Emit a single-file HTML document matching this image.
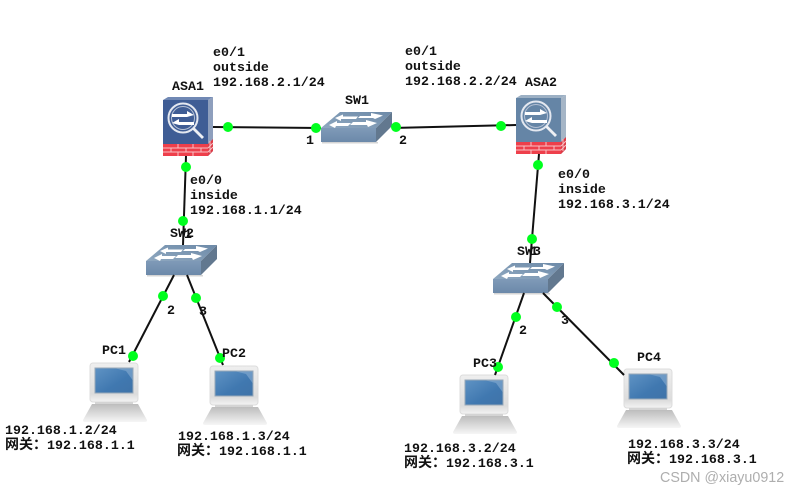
<!DOCTYPE html>
<html><head><meta charset="utf-8"><style>
html,body{margin:0;padding:0;background:#fff;width:799px;height:494px;overflow:hidden}
svg{display:block}
.t{font-family:"Liberation Mono","Noto Serif CJK SC",monospace;font-size:13.3px;font-weight:bold;fill:#111}
.c{font-family:"Liberation Mono","Noto Sans CJK SC",monospace;font-size:13.3px;font-weight:bold;fill:#111}
.w{font-family:"Liberation Sans",sans-serif;font-size:14.3px;fill:#aeaeae}
.l{stroke:#111;stroke-width:2;fill:none}
.d{fill:#00ff1e}
</style></head><body>
<svg width="799" height="494" viewBox="0 0 799 494" xmlns="http://www.w3.org/2000/svg">
<defs>
<linearGradient id="sf" x1="0" y1="0" x2="0" y2="1"><stop offset="0" stop-color="#7f9ab8"/><stop offset="1" stop-color="#6c89aa"/></linearGradient>
<linearGradient id="st" x1="0" y1="1" x2="1" y2="0"><stop offset="0" stop-color="#8fa8c0"/><stop offset="1" stop-color="#6d8aa8"/></linearGradient>
<linearGradient id="scr" x1="0" y1="0" x2="1" y2="1"><stop offset="0" stop-color="#5f93c4"/><stop offset=".6" stop-color="#4078b0"/><stop offset="1" stop-color="#3f73a8"/></linearGradient>
<linearGradient id="mon" x1="0" y1="0" x2="0" y2="1"><stop offset="0" stop-color="#efefef"/><stop offset=".8" stop-color="#dcdcdc"/><stop offset="1" stop-color="#f4f4f4"/></linearGradient>
<linearGradient id="bas" x1="0" y1="0" x2="0" y2="1"><stop offset="0" stop-color="#bdbdbd"/><stop offset="1" stop-color="#f6f6f6"/></linearGradient>

<g id="sw">
<rect x="1" y="30" width="56" height="1.500" fill="#d4d4d4"/>
<polygon points="0,16 55,16 71,0 19,0" fill="url(#st)"/>
<polygon points="55,16 71,0 71,14 55,30" fill="#62788f"/>
<rect x="0" y="16" width="55" height="14" fill="url(#sf)"/>
<g fill="#fff">
<polygon points="14,6 22,2.500 22,4.500 37,4.500 35,7 20,7 20,9"/>
<polygon points="39,4 50,4 50,1 62,3.500 54,7 52,6 37,6"/>
<polygon points="8,13 16,9 16,11 30,11 27,14 15,14 14,16"/>
<polygon points="32,10 45,10 45,8 56,11 47,15 46,13 29,13"/>
</g>
</g>

<g id="asa-icon">
<circle cx="20" cy="18" r="14.500" fill="none" stroke="#e4e8f0" stroke-width="2"/>
<circle cx="20" cy="18" r="11.500" fill="none" stroke="#b4c0d4" stroke-width="1"/>
<line x1="30.500" y1="28.500" x2="40" y2="38" stroke="#eef0f4" stroke-width="2.800"/>
<g fill="#fff"><polygon points="9,14 24,14 24,11 31,15 24,17 9,17"/><polygon points="31,22 16,22 16,19 9,23 16,25 31,25"/></g>
</g>

<g id="fw">
<rect x="0" y="47" width="45" height="12" fill="#ee3f4b"/>
<polygon points="45,47 50,42 50,54 45,59" fill="#dd3b47"/>
<g stroke="#f8c0c4" stroke-width="1" fill="none">
<path d="M0,51H45M0,55H45M15,47V51M30,47V51M8,51V55M23,51V55M38,51V55M15,55V59M30,55V59M47,44V56M45,51L50,46M45,55L50,50"/>
</g>
</g>

<g id="pc">
<rect x="0" y="0" width="48" height="39" rx="3" fill="url(#mon)" stroke="#dcdcdc"/>
<rect x="5" y="5" width="38" height="25" fill="url(#scr)" stroke="#97a8b8"/>
<polygon points="26,5.500 42.500,5.500 42.500,17 36,8" fill="#8fb3d6" opacity=".55"/>
<rect x="5" y="39" width="38" height="3" fill="#d4d4d4"/>
<path d="M2,41H48L57,57Q57,59 55,59H-5Q-7,59 -7,57Z" fill="url(#bas)"/>
</g>
</defs>

<rect width="799" height="494" fill="#fff"/>

<!-- ASA1 -->
<g transform="translate(163,97)">
<polygon points="0,3 5,0 50,0 45,3" fill="#7088b4"/>
<polygon points="45,3 50,0 50,54 45,59" fill="#8e9fbd"/>
<rect x="0" y="3" width="45" height="44" fill="#3f5d95"/>
<use href="#asa-icon" y="3"/>
<use href="#fw"/>
</g>
<!-- ASA2 -->
<g transform="translate(516,95)">
<polygon points="0,3 5,0 50,0 45,3" fill="#9cb0c4"/>
<polygon points="45,3 50,0 50,54 45,59" fill="#a5b5c6"/>
<rect x="0" y="3" width="45" height="44" fill="#6585a6"/>
<use href="#asa-icon" y="3"/>
<use href="#fw"/>
</g>

<!-- switches -->
<use href="#sw" x="321" y="112"/>
<use href="#sw" x="146" y="245"/>
<use href="#sw" x="493" y="263"/>

<!-- PCs -->
<use href="#pc" x="90" y="363"/>
<use href="#pc" x="210" y="366"/>
<use href="#pc" x="460" y="375"/>
<use href="#pc" x="624" y="369"/>

<!-- links -->
<line class="l" x1="213" y1="127" x2="321" y2="128"/>
<line class="l" x1="392" y1="128" x2="516" y2="125"/>
<line class="l" x1="186" y1="156" x2="183" y2="245"/>
<line class="l" x1="174" y1="275" x2="129" y2="362"/>
<line class="l" x1="187" y1="275" x2="223" y2="365"/>
<line class="l" x1="539" y1="154" x2="530" y2="263"/>
<line class="l" x1="524" y1="293" x2="495" y2="375"/>
<line class="l" x1="543" y1="293" x2="624" y2="375"/>

<!-- dots -->
<g class="d">
<circle cx="228" cy="127" r="5"/><circle cx="316" cy="128" r="5"/>
<circle cx="396" cy="127" r="5"/><circle cx="501" cy="126" r="5"/>
<circle cx="186" cy="167" r="5"/><circle cx="183" cy="221" r="5"/>
<circle cx="163" cy="296" r="5"/><circle cx="133" cy="356" r="5"/>
<circle cx="196" cy="298" r="5"/><circle cx="220" cy="358" r="5"/>
<circle cx="538" cy="165" r="5"/><circle cx="532" cy="239" r="5"/>
<circle cx="516" cy="317" r="5"/><circle cx="498" cy="367" r="5"/>
<circle cx="557" cy="307" r="5"/><circle cx="614" cy="363" r="5"/>
</g>

<!-- labels -->
<g class="t">
<text x="213" y="56">e0/1</text><text x="213" y="71">outside</text><text x="213" y="86">192.168.2.1/24</text>
<text x="405" y="55">e0/1</text><text x="405" y="70">outside</text><text x="405" y="85">192.168.2.2/24</text>
<text x="190" y="184">e0/0</text><text x="190" y="199">inside</text><text x="190" y="214">192.168.1.1/24</text>
<text x="558" y="178">e0/0</text><text x="558" y="193">inside</text><text x="558" y="208">192.168.3.1/24</text>
<text x="172" y="90">ASA1</text><text x="525" y="86">ASA2</text>
<text x="345" y="104">SW1</text>
<text x="170" y="237">SW2</text><text x="184" y="238">1</text>
<text x="517" y="255">SW3</text><text x="530" y="255">1</text>
<text x="306" y="144">1</text><text x="399" y="144">2</text>
<text x="167" y="314">2</text><text x="199" y="315">3</text>
<text x="519" y="334">2</text><text x="561" y="324">3</text>
<text x="102" y="354">PC1</text><text x="222" y="357">PC2</text>
<text x="473" y="367">PC3</text><text x="637" y="361">PC4</text>
<text x="5" y="434">192.168.1.2/24</text>
<text x="178" y="440">192.168.1.3/24</text>
<text x="404" y="452">192.168.3.2/24</text>
<text x="628" y="448">192.168.3.3/24</text>
</g>
<g class="c">
<text x="5" y="449"><tspan font-size="14">网关：</tspan>192.168.1.1</text>
<text x="177" y="455"><tspan font-size="14">网关：</tspan>192.168.1.1</text>
<text x="404" y="467"><tspan font-size="14">网关：</tspan>192.168.3.1</text>
<text x="627" y="463"><tspan font-size="14">网关：</tspan>192.168.3.1</text>
</g>
<text class="w" x="660" y="482">CSDN @xiayu0912</text>
</svg>
</body></html>
